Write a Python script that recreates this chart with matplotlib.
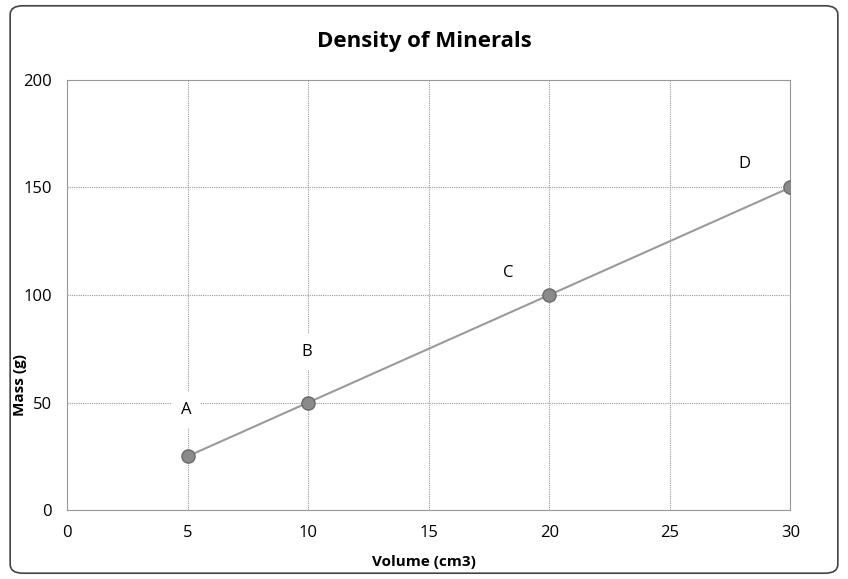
import matplotlib.pyplot as plt
from matplotlib.patches import FancyBboxPatch

volume = [5, 10, 20, 30]
mass = [25, 50, 100, 150]
names = ["A", "B", "C", "D"]
label_x = [4.95, 9.95, 18.3, 28.1]
label_y = [46.5, 73.5, 110, 161]

plt.rcParams['font.family'] = ['Open Sans', 'DejaVu Sans']

fig = plt.figure(figsize=(8.48, 5.79), dpi=100)
ax = fig.add_axes([0.079, 0.119, 0.853, 0.743])

# rounded chart border
fig.patches.append(FancyBboxPatch((0.012, 0.01), 0.976, 0.98, boxstyle="round,pad=0,rounding_size=0.015",
                                  transform=fig.transFigure, fill=False, edgecolor="#444444", linewidth=1.2))

ax.plot(volume, mass, color="#9a9a9a", linewidth=1.5, zorder=3)
ax.plot(volume, mass, "o", color="#8a8a8a", markeredgecolor="#6a6a6a", markersize=9.5, zorder=4)

for n, x, y in zip(names, label_x, label_y):
  ax.text(x, y, n, fontsize=12, ha="center", va="center", zorder=2,
          bbox=dict(facecolor="white", edgecolor="none", pad=7))

ax.set_xlim(0, 30)
ax.set_ylim(0, 200)
ax.set_xticks(range(0, 31, 5))
ax.set_yticks(range(0, 201, 50))
ax.grid(True, color="#999999", linestyle=(0, (1, 1)), linewidth=0.8, zorder=0)
ax.set_axisbelow(True)
for s in ax.spines.values():
  s.set_color("#999999")
  s.set_linestyle((0, (1, 1)))
  s.set_linewidth(0.8)
ax.tick_params(length=0, labelsize=12, pad=11)

fig.text(0.5, 1 - 42 / 579, "Density of Minerals", fontsize=16, fontweight="bold", ha="center", va="center")
fig.text(0.5, 1 - 562 / 579, "Volume (cm3)", fontsize=11, fontweight="bold", ha="center", va="center")
fig.text(20 / 848, 1 - 385 / 579, "Mass (g)", fontsize=11, fontweight="bold", ha="center", va="center", rotation=90)

fig.savefig("out.png", dpi=100)
